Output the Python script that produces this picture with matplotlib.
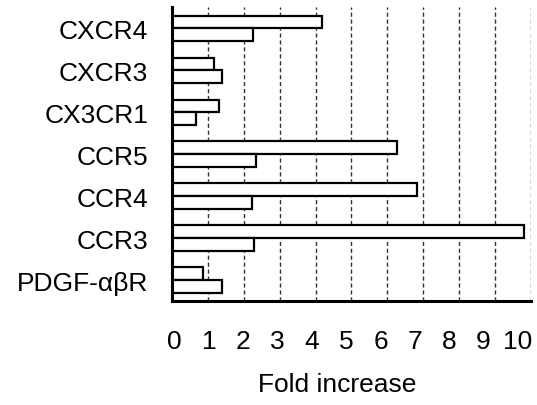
import matplotlib.pyplot as plt

# categories, top to bottom
receptors = ['CXCR4', 'CXCR3', 'CX3CR1', 'CCR5', 'CCR4', 'CCR3', 'PDGF-\u03b1\u03b2R']
# upper bar and lower bar of each pair (fold increase)
upper = [4.17, 1.17, 1.31, 6.28, 6.82, 9.81, 0.87]
lower = [2.25, 1.40, 0.67, 2.33, 2.24, 2.28, 1.40]
ticks = list(range(0, 11))

plt.rcParams['font.family'] = ['Liberation Sans', 'DejaVu Sans']

fig = plt.figure(figsize=(5.37, 4.06), dpi=100)
ax = fig.add_axes([0.320, 0.256, 0.669, 0.724])

pos = list(range(len(receptors)))
h = 0.3
ax.barh([p - h / 2 for p in pos], upper, height=h, color='white',
        edgecolor='black', linewidth=1.6, zorder=3)
ax.barh([p + h / 2 for p in pos], lower, height=h, color='white',
        edgecolor='black', linewidth=1.6, zorder=3)

ax.set_xlim(0, 10)
ax.set_ylim(len(receptors) - 0.5, -0.5)

# dashed vertical gridlines at each integer
for t in ticks[1:]:
    ax.axvline(t, linestyle=(0, (3, 2)), color='#333333', linewidth=1, zorder=0)

# tick labels are set slightly tighter than the gridlines in the original
ax.set_xticks([t * 0.955 + 0.08 for t in ticks])
ax.set_xticklabels([str(t) for t in ticks])
ax.set_yticks(pos)
ax.set_yticklabels(receptors)
ax.tick_params(axis='both', length=0, labelsize=19)
ax.tick_params(axis='x', pad=20)
ax.tick_params(axis='y', pad=17)

for s in ['top', 'right']:
    ax.spines[s].set_visible(False)
for s in ['left', 'bottom']:
    ax.spines[s].set_linewidth(2.2)
    ax.spines[s].set_zorder(4)

ax.set_xlabel('Fold increase', fontsize=19)
ax.xaxis.set_label_coords(0.46, -0.24)

fig.savefig('out.png', dpi=100)
